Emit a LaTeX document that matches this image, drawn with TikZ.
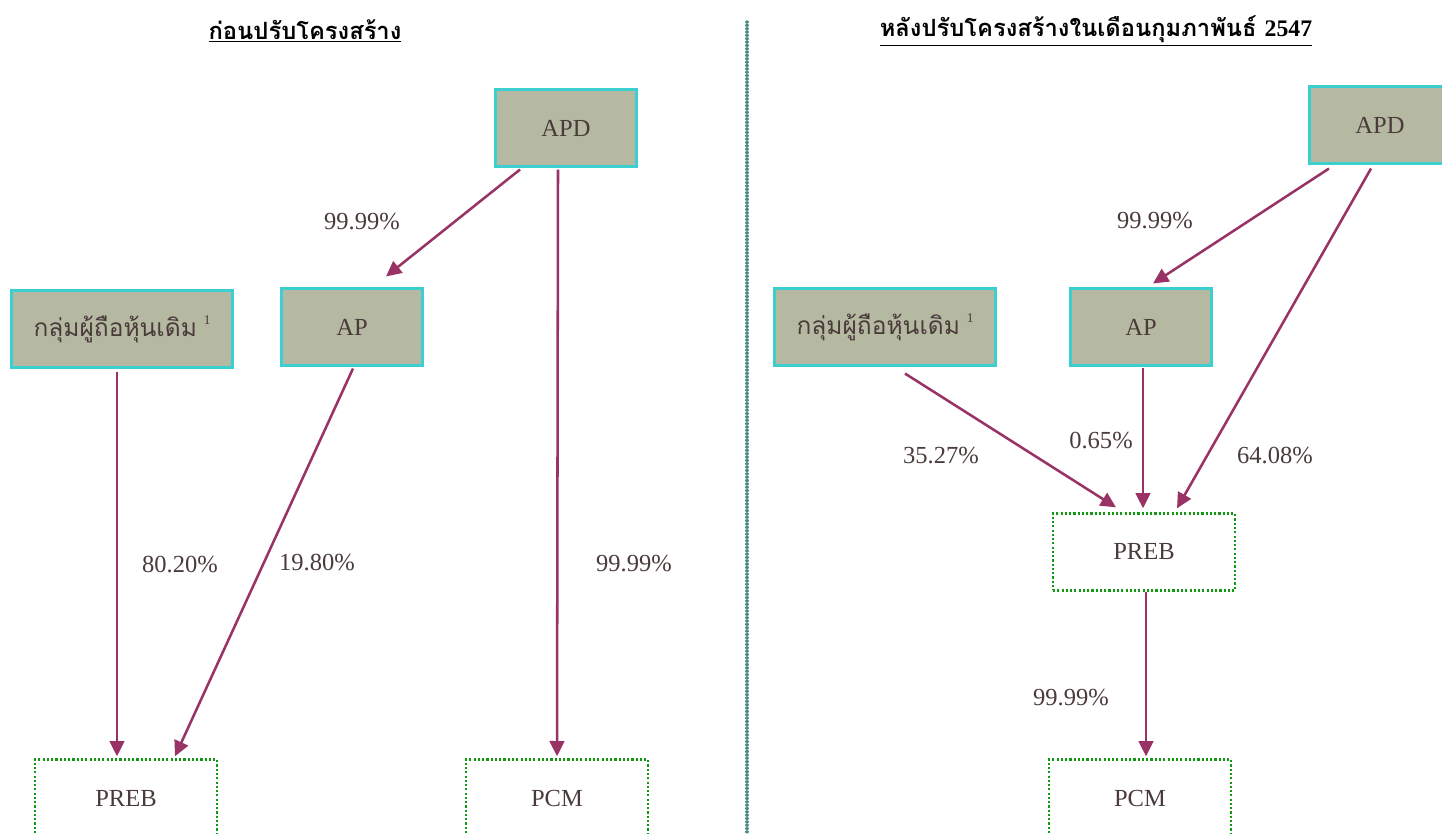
\documentclass[tikz,border=0pt]{standalone}
\usepackage{fontspec}
\setmainfont{Liberation Serif}
\newfontfamily\thai[Script=Thai]{Loma}
\usetikzlibrary{arrows.meta,calc}
\definecolor{txt}{HTML}{4A3B3B}
\definecolor{boxfill}{HTML}{B6B9A2}
\definecolor{boxline}{HTML}{3CCFCF}
\definecolor{arr}{HTML}{993366}
\definecolor{dotgreen}{HTML}{119911}
\definecolor{divcol}{HTML}{4A8C82}
\begin{document}
\begin{tikzpicture}[x=0.75pt,y=-0.75pt,
  solidbox/.style={draw=boxline,fill=boxfill,line width=1.8pt,minimum width=105.5pt,minimum height=57.5pt,inner sep=0pt,text=txt,font=\fontsize{18.4}{20}\selectfont},
  widebox/.style={solidbox,minimum width=165.5pt},
  dotbox/.style={draw=dotgreen,line width=2pt,dash pattern=on 1.6pt off 1.6pt,minimum width=136.5pt,minimum height=57.5pt,inner sep=0pt,text=txt,font=\fontsize{18.4}{20}\selectfont},
  pct/.style={text=txt,font=\fontsize{18.4}{20}\selectfont,inner sep=0pt},
  ttl/.style={text=black,font=\fontsize{17.8}{20}\selectfont\bfseries,inner sep=0pt},
  conn/.style={draw=arr,line width=1.9pt,-{Triangle[length=11.5pt,width=11pt]}}]
\useasboundingbox (0,0) rectangle (1442,834);
\clip (0,0) rectangle (1442,834);
% divider
\draw[divcol,line width=2.4pt,line cap=round,dash pattern=on 0.01pt off 2.5pt] (747,22) -- (747,834);
% titles
\node[ttl] (tL) at (305,31) {\underline{\thai ก่อนปรับโครงสร้าง}};
\node[ttl] (tR) at (1096,31) {\underline{\thai หลังปรับโครงสร้างในเดือนกุมภาพันธ์ \rmfamily 2547}};
% left nodes
\node[solidbox] (apdL) at (566,128) {APD};
\node[solidbox] (apL) at (352,327) {AP};
\node[widebox] (grpL) at (122,329) {{\thai กลุ่มผู้ถือหุ้นเดิม}\;\raisebox{1.1ex}{\fontsize{10}{11}\selectfont 1}};
\node[dotbox] (prebL) at (126,798) {PREB};
\node[dotbox] (pcmL) at (557,798) {PCM};
% right nodes
\node[solidbox] (apdR) at (1380,125) {APD};
\node[solidbox] (apR) at (1141,327) {AP};
\node[widebox] (grpR) at (885,327) {{\thai กลุ่มผู้ถือหุ้นเดิม}\;\raisebox{1.1ex}{\fontsize{10}{11}\selectfont 1}};
\node[dotbox] (prebR) at (1144,552) {PREB};
\node[dotbox] (pcmR) at (1140,798) {PCM};
% left connectors
\draw[conn] ($(apdL.south)+(-46,2)$) -- ($(apL.north)+(34,-11)$);
\draw[conn] ($(apdL.south)+(-8,2)$) -- ($(pcmL.north)+(0,-2)$);
\draw[conn] ($(grpL.south)+(-5,3)$) -- ($(prebL.north)+(-9,-2)$);
\draw[conn] ($(apL.south)+(1,2)$) -- ($(prebL.north)+(49,-2)$);
% right connectors
\draw[conn] ($(apdR.south)+(-51,4)$) -- ($(apR.north)+(12,-4)$);
\draw[conn] ($(apdR.south)+(-9,4)$) -- ($(prebR.north)+(33,-4)$);
\draw[conn] ($(grpR.south)+(20,7)$) -- ($(prebR.north)+(-28,-5)$);
\draw[conn] ($(apR.south)+(2,1)$) -- ($(prebR.north)+(-1,-4)$);
\draw[conn] ($(prebR.south)+(2,0)$) -- ($(pcmR.north)+(6,-2)$);
% labels
\node[pct] (l1) at (362,222) {99.99\%};
\node[pct] (l2) at (634,564) {99.99\%};
\node[pct] (l3) at (180,565) {80.20\%};
\node[pct] (l4) at (317,563) {19.80\%};
\node[pct] (r1) at (1155,221) {99.99\%};
\node[pct] (r2) at (1275,456) {64.08\%};
\node[pct] (r3) at (941,456) {35.27\%};
\node[pct] (r4) at (1101,441) {0.65\%};
\node[pct] (r5) at (1071,698) {99.99\%};
\end{tikzpicture}
\end{document}
